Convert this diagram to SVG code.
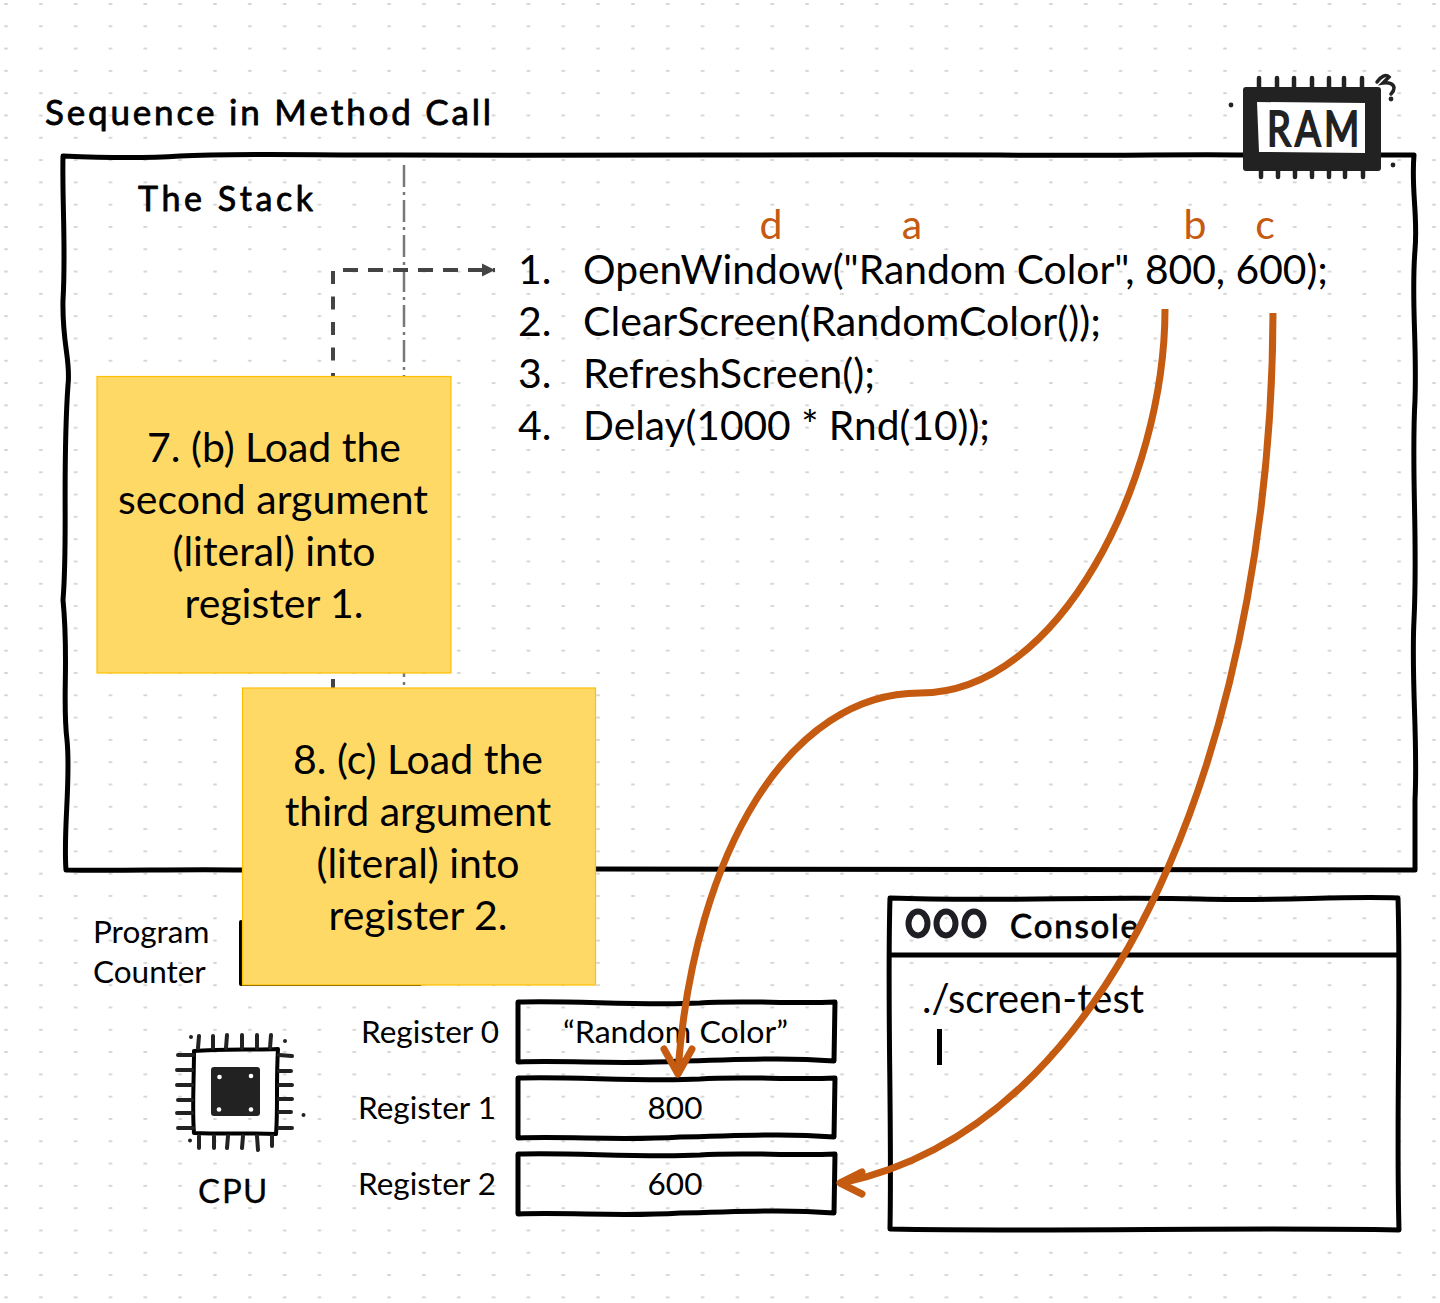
<svg xmlns="http://www.w3.org/2000/svg" width="1440" height="1303" viewBox="0 0 1440 1303">
<style>
.t{font-family:Lato,"Open Sans",sans-serif;fill:#000}
.l{font-size:41px}
.s{font-size:31.5px}
.h{font-family:Lato,"Open Sans",sans-serif;fill:#000;stroke:#000;stroke-width:.8px;stroke-linejoin:round;font-kerning:none}
.o{font-family:Lato,"Open Sans",sans-serif;fill:#C55A11;font-size:41px}
.k{fill:none;stroke:#000;stroke-linejoin:round;stroke-linecap:round}
.pin{fill:none;stroke:#222;stroke-linecap:round}
.c{text-anchor:middle}
.sticky{fill:#FFD966;stroke:#FFC000;stroke-width:1.2}
</style>
<defs>
<pattern id="dots" x="4" y="3" width="34.83" height="22.3" patternUnits="userSpaceOnUse"><rect x="0" y="0" width="4" height="2" rx="1" fill="#d4d4d4"/></pattern>
<marker id="dashHead" markerUnits="userSpaceOnUse" markerWidth="14" markerHeight="14" refX="13" refY="7" orient="auto"><path d="M0 0L13 6.500L0 13Z" transform="translate(0 .5)" fill="#444"/></marker>
</defs>
<rect width="1440" height="1303" fill="#fff"/>
<rect width="1440" height="1303" fill="url(#dots)"/>

<g id="title"><text class="h" x="45" y="124.500" font-size="35" textLength="446" lengthAdjust="spacing">Sequence in Method Call</text></g>

<g id="stack">
<path class="k" stroke-width="5" d="M63 156C110 158 150 158 180 156C230 153 300 155 400 155C600 156 800 154 1000 155C1100 156 1200 154 1243 155M1381 155L1414 155C1411 190 1418 215 1415 250C1411 300 1417 340 1415 400C1411 470 1418 540 1414 620C1411 680 1418 740 1415 800L1415 870C1200 871 900 869 596 869M242 870C180 869 120 871 66 870C63 830 71 780 67 740C62 700 69 660 63 600C68 540 62 470 68 385C71 360 62 345 63 300C66 250 62 200 63 156"/>
<text class="h" x="138" y="210.500" font-size="34" textLength="175" lengthAdjust="spacing">The Stack</text>
</g>

<g id="program-counter">
<text class="t s" x="93" y="943">Program</text>
<text class="t s" x="93" y="983">Counter</text>
<path class="k" stroke-width="4" d="M241 922L241 984L420 984"/>
</g>

<g id="connectors">
<path d="M404 165V690" fill="none" stroke="#777" stroke-width="2.500" stroke-dasharray="22 5 3 5"/>
<path d="M333 271V692" fill="none" stroke="#444" stroke-width="4" stroke-dasharray="13 12.500"/>
<path d="M343 270H495" fill="none" stroke="#444" stroke-width="4" stroke-dasharray="15 10" marker-end="url(#dashHead)"/>
</g>

<g id="code">
<text class="t l" x="518" y="283.500">1.</text>
<text class="t l" x="583" y="283.500" textLength="745" lengthAdjust="spacingAndGlyphs">OpenWindow("Random Color", 800, 600);</text>
<text class="t l" x="518" y="335.500">2.</text>
<text class="t l" x="583" y="335.500" textLength="518" lengthAdjust="spacingAndGlyphs">ClearScreen(RandomColor());</text>
<text class="t l" x="518" y="387.500">3.</text>
<text class="t l" x="583" y="387.500" textLength="292" lengthAdjust="spacingAndGlyphs">RefreshScreen();</text>
<text class="t l" x="518" y="439.500">4.</text>
<text class="t l" x="583" y="439.500" textLength="407" lengthAdjust="spacingAndGlyphs">Delay(1000 * Rnd(10));</text>
<text class="o c" x="771" y="238.500">d</text>
<text class="o c" x="912" y="238.500">a</text>
<text class="o c" x="1195" y="238.500">b</text>
<text class="o c" x="1265" y="238.500">c</text>
</g>

<g id="ram">
<rect x="1243" y="87" width="138" height="84" rx="3" fill="#222"/>
<path d="M1257 102L1365 103L1365 153L1259 152Z" fill="#fff"/>
<path class="pin" stroke-width="4.500" d="M1259 78V87M1277 78V87M1294 78V87M1312 78V87M1329 78V87M1344 78V87M1362 78V87M1261 171V177M1278 171V177M1295 171V177M1312 171V177M1329 171V177M1345 171V177M1363 171V177"/>
<text x="0 28 57" transform="translate(1267 146) scale(1 1.25)" y="0" font-family="Lato,sans-serif" font-size="38" fill="#222" stroke="#222" stroke-width="1.600" style="font-kerning:none">RAM</text>
<path class="pin" stroke-width="3.500" d="M1377 82C1381 76 1386 74 1389 77L1383 83C1389 82 1394 84 1394 88C1394 91 1392 93 1391 94"/>
<circle cx="1391" cy="99" r="2.400" fill="#222"/>
<circle cx="1231" cy="105" r="2.400" fill="#222"/>
<circle cx="1393" cy="165" r="2.400" fill="#222"/>
</g>

<g id="sticky-7">
<rect class="sticky" x="97" y="376.500" width="354" height="296.500"/>
<text class="t l c" x="274" y="461.500">7. (b) Load the</text>
<text class="t l c" x="273" y="513.500">second argument</text>
<text class="t l c" x="274" y="565.500">(literal) into</text>
<text class="t l c" x="274" y="617.500">register 1.</text>
</g>

<g id="console">
<path class="k" stroke-width="5" d="M890 898C1000 902 1100 896 1200 899C1280 901 1340 896 1398 898C1401 1000 1396 1120 1399 1230C1250 1227 1050 1232 890 1229C892 1120 887 1000 890 898Z"/>
<path class="k" stroke-width="5" d="M891 955H1398"/>
<g fill="none" stroke="#1e1e24" stroke-width="6">
<ellipse cx="918" cy="923.500" rx="9.500" ry="12"/>
<ellipse cx="946" cy="923.500" rx="9.500" ry="12"/>
<ellipse cx="974" cy="923.500" rx="9.500" ry="12"/>
</g>
<text class="h" x="1010" y="938" font-size="33" textLength="128" lengthAdjust="spacing">Console</text>
<text class="t l" x="922" y="1012.500" textLength="222" lengthAdjust="spacingAndGlyphs">./screen-test</text>
<rect x="937" y="1029" width="5" height="36" fill="#000"/>
</g>

<g id="cpu">
<path class="k" stroke="#222" stroke-width="4" d="M194 1051C220 1049 250 1050 278 1049C276 1080 278 1110 276 1134C250 1133 220 1134 194 1133C192 1110 194 1080 194 1051Z"/>
<rect x="211" y="1067" width="49" height="49" rx="3" fill="#222"/>
<g fill="#fff"><circle cx="219.500" cy="1077" r="2.300"/><circle cx="251" cy="1076" r="2.300"/><circle cx="219" cy="1109.500" r="2.300"/><circle cx="251" cy="1109.500" r="2.300"/></g>
<path class="pin" stroke-width="4" d="M199 1036L198 1048M213 1036V1048M227 1035L226 1048M242 1035V1048M257 1035V1048M271 1035L270 1048M199 1136V1148M214 1136V1148M228 1136L227 1148M243 1136L242 1148M257 1136L258 1150M272 1136V1146M178 1055H193M177 1070H192M177 1085H192M178 1100H192M177 1113H192M178 1128H193M279 1055L292 1056M279 1071H291M279 1085H292M279 1099H292M279 1112H291M279 1128H292"/>
<g fill="#222"><circle cx="191" cy="1037" r="2"/><circle cx="285" cy="1041" r="2"/><circle cx="303.500" cy="1115" r="2"/><circle cx="190" cy="1140.500" r="2"/></g>
<text class="h" x="198 222 243" y="1203" font-size="33" style="stroke-width:.3px">CPU</text>
</g>

<g id="register-0">
<path class="k" stroke-width="5" d="M518 1002C570 1000 640 1006 700 1003C740 1000 790 1004 835 1002L834 1061C780 1057 740 1060 680 1061C620 1065 570 1060 518 1062Z"/>
<text class="t s" x="563" y="1043" textLength="225" lengthAdjust="spacingAndGlyphs">“Random Color”</text>
<text class="t s" x="361" y="1043">Register 0</text>
</g>
<g id="register-1">
<path class="k" stroke-width="5" d="M518 1078C570 1076 640 1082 700 1079C740 1076 790 1080 835 1078L834 1137C780 1133 740 1136 680 1137C620 1141 570 1136 518 1138Z"/>
<text class="t s c" x="675" y="1119">800</text>
<text class="t s" x="358" y="1119">Register 1</text>
</g>
<g id="register-2">
<path class="k" stroke-width="5" d="M518 1154C570 1152 640 1158 700 1155C740 1152 790 1156 835 1154L834 1213C780 1209 740 1212 680 1213C620 1217 570 1212 518 1214Z"/>
<text class="t s c" x="675" y="1195">600</text>
<text class="t s" x="358" y="1195">Register 2</text>
</g>

<g id="sticky-8">
<rect class="sticky" x="242.500" y="688" width="353" height="297"/>
<text class="t l c" x="418" y="773.500">8. (c) Load the</text>
<text class="t l c" x="418" y="825.500">third argument</text>
<text class="t l c" x="418" y="877.500">(literal) into</text>
<text class="t l c" x="418" y="929.500">register 2.</text>
</g>

<g id="orange-connectors" fill="none" stroke="#C55A11" stroke-width="7" stroke-linecap="butt" stroke-linejoin="round">
<path d="M1165 309C1165 480 1060 693 920 693C790 693 695 850 678 1070"/>
<path d="M664 1049L678 1074L692 1049" stroke-linecap="round"/>
<path d="M1273 313C1272 690 1140 1120 842 1183"/>
<path d="M862 1172L840 1183L862 1194" stroke-linecap="round"/>
</g>
</svg>
